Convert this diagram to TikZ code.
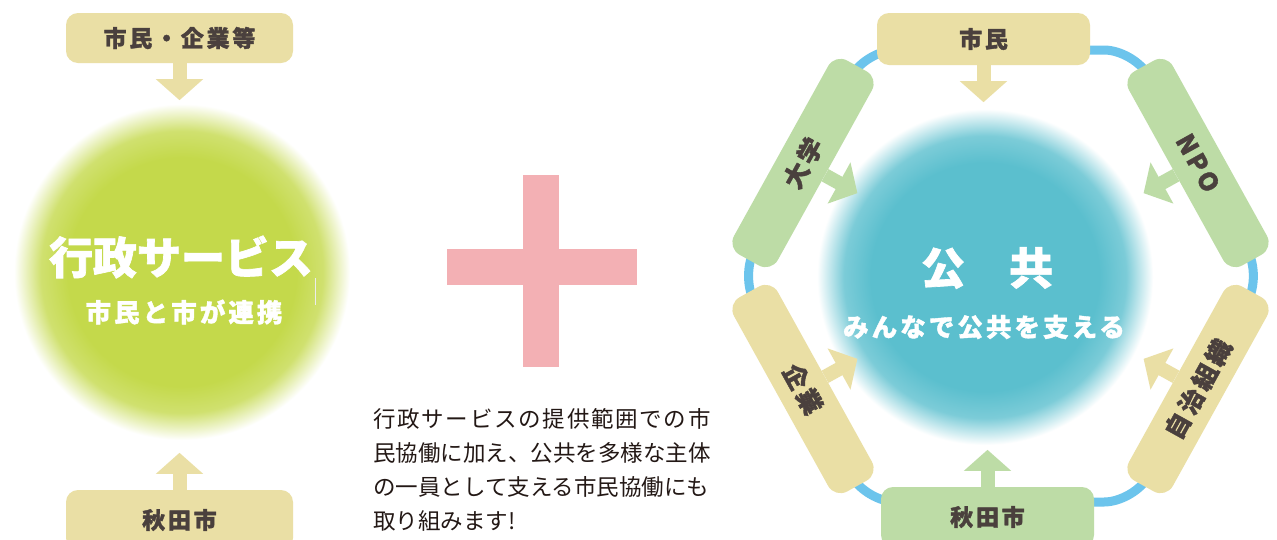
\documentclass[tikz,border=0pt]{standalone}
\usepackage{fontspec}
\setmainfont{Noto Sans CJK JP}[BoldFeatures={FakeBold=1.5}]
\newfontfamily\boxfont{Noto Sans CJK JP}[LetterSpace=12,BoldFeatures={FakeBold=1.5}]
\usetikzlibrary{arrows.meta,calc}
\definecolor{tanc}{HTML}{EADFA5}
\definecolor{lgreen}{HTML}{BDDCA6}
\definecolor{ringblue}{HTML}{6CC4EC}
\definecolor{cgreen}{HTML}{C4D94B}
\definecolor{ccyan}{HTML}{5BBFCE}
\definecolor{boxtext}{HTML}{4A403D}
\definecolor{pinkc}{HTML}{F3B0B4}
\definecolor{bodytext}{HTML}{231815}
\pgfdeclareradialshading{greenblur}{\pgfpoint{0bp}{0bp}}{color(0bp)=(cgreen); color(17bp)=(cgreen); color(21bp)=(cgreen!80!white); color(25bp)=(white); color(50bp)=(white)}
\pgfdeclareradialshading{cyanblur}{\pgfpoint{0bp}{0bp}}{color(0bp)=(ccyan); color(17bp)=(ccyan); color(21bp)=(ccyan!80!white); color(25bp)=(white); color(50bp)=(white)}
\tikzset{
  hbox/.style={rounded corners=12pt, minimum width=213pt, minimum height=52pt, inner sep=0pt,
    font=\boxfont\bfseries\fontsize{23}{23}\selectfont, text=boxtext},
  tanbox/.style={hbox, fill=tanc},
  greenbox/.style={hbox, fill=lgreen},
  dbox/.style={hbox, rounded corners=14pt, minimum width=222pt, minimum height=50pt,
    font=\boxfont\bfseries\fontsize{25}{25}\selectfont},
  tanarrow/.style={draw=tanc, line width=14pt, -{Triangle[width=46pt,length=21pt]}},
  greenarrow/.style={draw=lgreen, line width=14pt, -{Triangle[width=46pt,length=21pt]}},
  ring/.style={draw=ringblue, line width=9pt, rounded corners=30pt},
  title/.style={text=white, font=\bfseries\fontsize{44}{44}\selectfont, inner sep=0pt},
  subtitle/.style={text=white, font=\boxfont\bfseries\fontsize{25.5}{25.5}\selectfont, inner sep=0pt},
}
\begin{document}
\begin{tikzpicture}[x=1pt,y=-1pt]
\clip (0,0) rectangle (1277,539);
\fill[white] (0,0) rectangle (1277,539);

% ---------- left ----------
\shade[shading=greenblur] (182,272) circle (168);
\node[tanbox, minimum width=227pt, minimum height=50pt] (ltop) at (179.5,38) {市民・企業等};
\node[tanbox, minimum width=227pt, minimum height=60pt] (lbot) at (179.5,520) {\raisebox{2pt}{秋田市}};
\draw[tanarrow] (ltop.south) -- ++(0,37);
\draw[tanarrow] (lbot.north) -- ++(0,-37);
\node[title] (gyosei) at (181,257) {行政サービス};
\node[subtitle] (renkei) at (184,312) {市民と市が連携};
\draw[white!85!gray, line width=1pt] (315,278) -- (315,305);

% ---------- plus ----------
\fill[pinkc] (447,249) rectangle (637,285);
\fill[pinkc] (523,175) rectangle (559,367);

% ---------- paragraph ----------
\node[anchor=north west, inner sep=0pt, align=left, text=bodytext,
  font=\fontsize{22.5}{34}\selectfont] (para) at (373,408)
  {\makebox[15em][s]{行\hfil 政\hfil サ\hfil ー\hfil ビ\hfil ス\hfil の\hfil 提\hfil 供\hfil 範\hfil 囲\hfil で\hfil の\hfil 市}\\
   民協働に加え、公共を多様な主体\\
   の一員として支える市民協働にも\\
   取り組みます!};

% ---------- right ----------
\coordinate (vL) at (740,276);
\coordinate (vTL) at (866,50);
\coordinate (vTR) at (1134,50);
\coordinate (vR) at (1262,276);
\coordinate (vBR) at (1134,502);
\coordinate (vBL) at (866,502);
\draw[ring] (1000,50) -- (vTR) -- (vR) -- (vBR) -- (vBL) -- (vL) -- (vTL) -- cycle;

\shade[shading=cyanblur] (985,277) circle (168);
\node[title] (kokyo) at (987,268) {公　共};
\node[subtitle] (sasaeru) at (984,327) {みんなで公共を支える};

\node[tanbox] (shimin) at (983.5,39) {市民};
\node[greenbox, minimum height=60pt] (akita) at (987.5,517) {秋田市};
\node[dbox, fill=lgreen, rotate=61] (daigaku) at ($(vL)!0.5!(vTL)$) {大学};
\node[dbox, fill=lgreen, rotate=-61] (npo) at ($(vTR)!0.5!(vR)$) {NPO};
\node[dbox, fill=tanc, rotate=-61] (kigyo) at ($(vL)!0.5!(vBL)$) {企業};
\node[dbox, fill=tanc, rotate=61] (jichi) at ($(vBR)!0.5!(vR)$) {自治組織};

\draw[tanarrow] (shimin.south) -- ++(0,37);
\draw[greenarrow] (akita.north) -- ++(0,-37);
\draw[greenarrow] (daigaku.south) -- ($(daigaku.south)!-37pt!(daigaku.center)$);
\draw[greenarrow] (npo.south) -- ($(npo.south)!-37pt!(npo.center)$);
\draw[tanarrow] (kigyo.north) -- ($(kigyo.north)!-37pt!(kigyo.center)$);
\draw[tanarrow] (jichi.north) -- ($(jichi.north)!-37pt!(jichi.center)$);
\end{tikzpicture}
\end{document}
